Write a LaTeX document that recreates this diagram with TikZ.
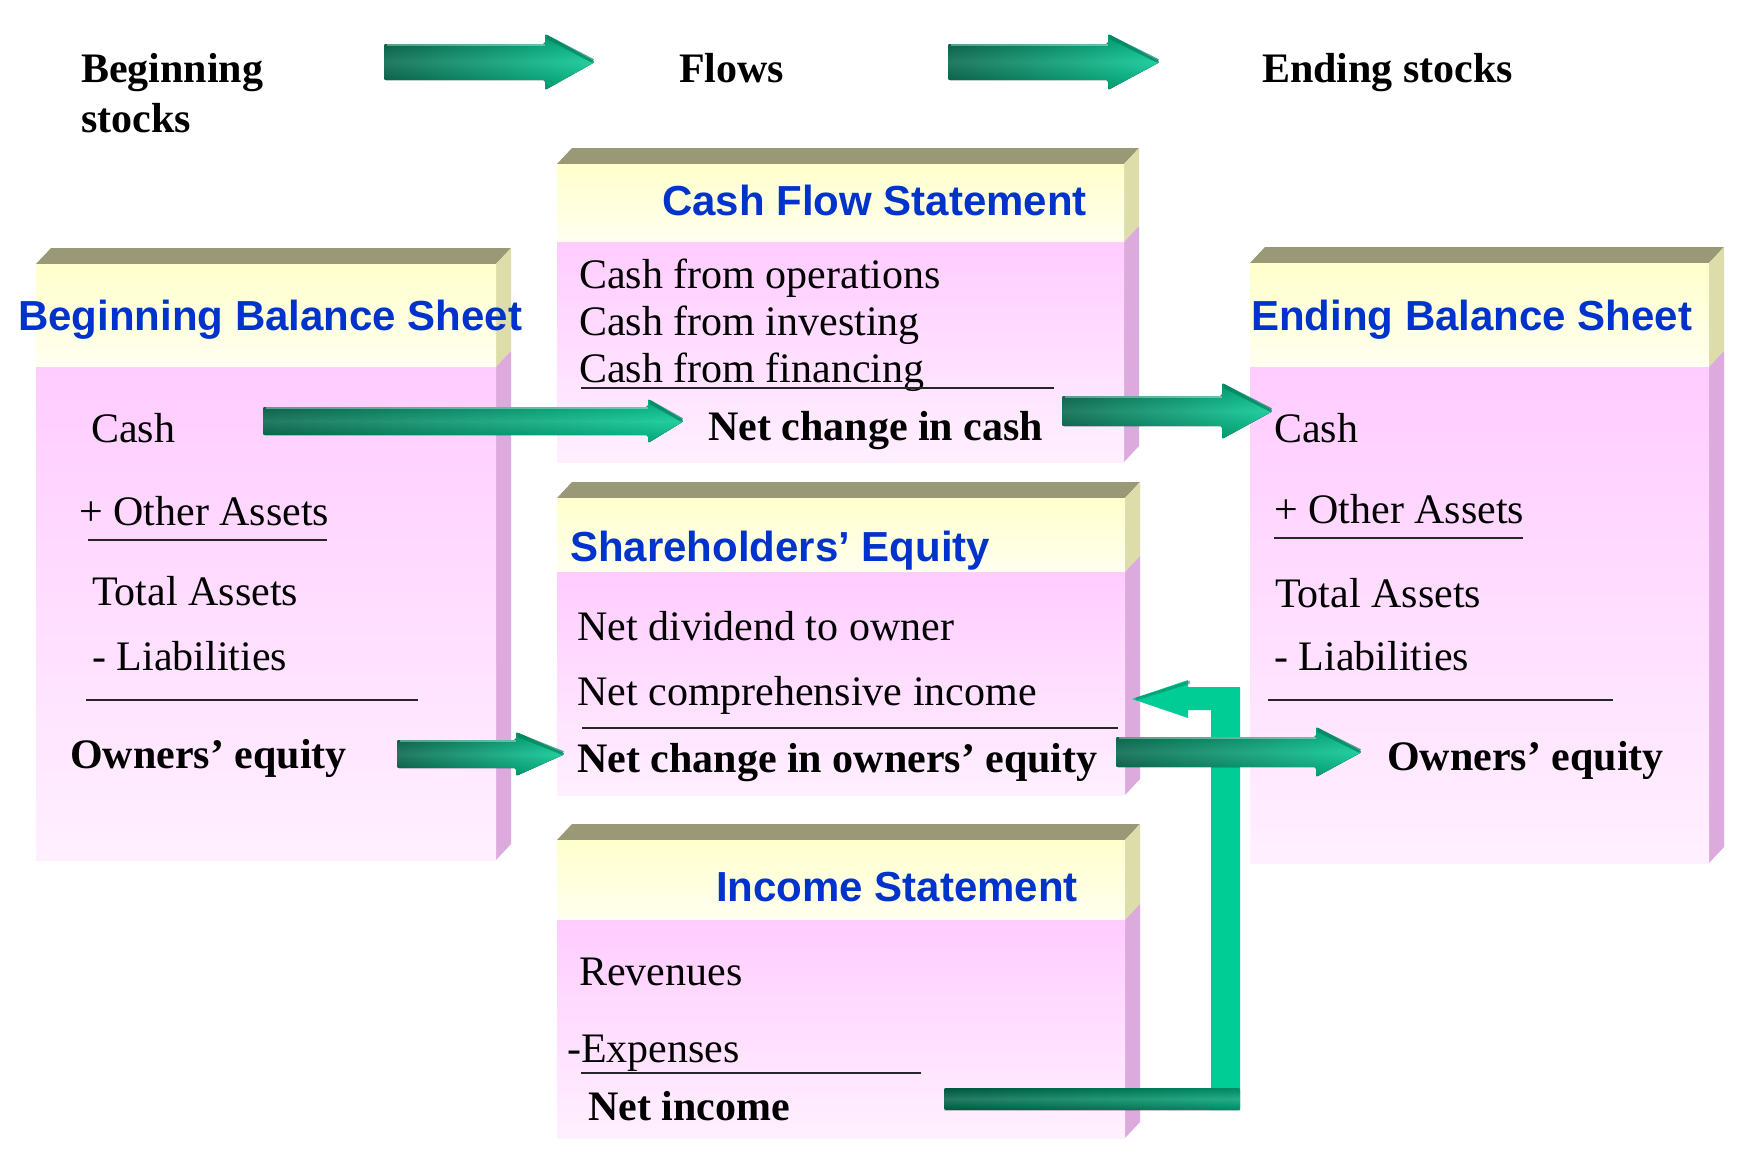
\documentclass[tikz,border=0pt]{standalone}
\usepackage{fontspec}
\setmainfont{Liberation Serif}
\newfontfamily\titlefont{Liberation Sans}
\usetikzlibrary{calc}
\definecolor{ttl}{RGB}{0,51,204}
\definecolor{topf}{RGB}{153,153,119}
\definecolor{sidey}{RGB}{221,221,170}
\definecolor{sidep}{RGB}{221,170,221}
\definecolor{hy1}{RGB}{255,255,204}
\definecolor{hy2}{RGB}{255,255,240}
\definecolor{pk1}{RGB}{255,204,255}
\definecolor{pk2}{RGB}{255,240,255}
\definecolor{gdark}{RGB}{0,100,72}
\definecolor{gmid}{RGB}{0,160,115}
\definecolor{glight}{RGB}{0,200,145}
\definecolor{gbright}{RGB}{0,204,150}
\definecolor{gedge}{RGB}{0,130,95}
\tikzset{
  txt/.style={anchor=base west, inner sep=0pt, font=\fontsize{42}{50}\selectfont},
  btxt/.style={anchor=base west, inner sep=0pt, font=\fontsize{42}{50}\selectfont\bfseries},
  ttxt/.style={anchor=base west, inner sep=0pt, font=\titlefont\fontsize{42}{50}\selectfont\bfseries, text=ttl},
  sumrule/.style={line width=2pt, black!85},
  garrowfill/.style={left color=gdark, right color=glight},
  gbevel/.style={top color=black, bottom color=black, middle color=white, opacity=0.14},
}
% #1 name, #2 xl, #3 xr, #4 front top, #5 header bottom, #6 bottom
\newcommand\statbox[6]{%
  \fill[topf] (#2,#4) -- (#2+15,#4-16) -- (#3+15,#4-16) -- (#3,#4) -- cycle;
  \fill[sidey] (#3,#4) -- (#3+15,#4-16) -- (#3+15,#5-16) -- (#3,#5) -- cycle;
  \fill[sidep] (#3,#5) -- (#3+15,#5-16) -- (#3+15,#6-16) -- (#3,#6) -- cycle;
  \shade[top color=hy1, bottom color=hy2] (#2,#4) rectangle (#3,#5);
  \shade[top color=pk1, bottom color=pk2] (#2,#5) rectangle (#3,#6);
  \coordinate (#1-nw) at (#2,#4);
  \coordinate (#1-se) at (#3,#6);
}
% #2 from, #3 tip, #4 shaft half, #5 head half, #6 head length
\newcommand\garrow[6][]{%
  \fill[garrowfill, rounded corners=2pt, #1] let \p1=(#2), \p2=(#3) in
    (\x1,\y1+#4pt) -- (\x2-#6pt,\y1+#4pt) -- (\x2-#6pt,\y1+#5pt) -- (\x2,\y1)
    -- (\x2-#6pt,\y1-#5pt) -- (\x2-#6pt,\y1-#4pt) -- (\x1,\y1-#4pt) -- cycle;
  \shade[gbevel, rounded corners=2pt] let \p1=(#2), \p2=(#3) in
    (\x1,\y1+#4pt) -- (\x2-#6pt,\y1+#4pt) -- (\x2-#6pt,\y1+#5pt) -- (\x2,\y1)
    -- (\x2-#6pt,\y1-#5pt) -- (\x2-#6pt,\y1-#4pt) -- (\x1,\y1-#4pt) -- cycle;
  \draw[gedge, line width=4pt, opacity=0.7] let \p1=(#2), \p2=(#3) in
    (\x2-#6pt+2pt,\y1+#5pt-3pt) -- (\x2-2pt,\y1+1pt);
  \draw[white, line width=1.5pt, opacity=0.35] let \p1=(#2), \p2=(#3) in
    (\x1+3pt,\y1+#4pt-1pt) -- (\x2-#6pt,\y1+#4pt-1pt);
}
\begin{document}
\begin{tikzpicture}[x=1pt,y=-1pt]
\useasboundingbox (0,0) rectangle (1740,1152);
\fill[white] (0,0) rectangle (1740,1152);

% top labels
\node[btxt] (begstocks) at (81,82) {Beginning};
\node[btxt] (begstocks2) at (81,132) {stocks};
\node[btxt] (flows) at (679,82) {Flows};
\node[btxt] (endstocks) at (1262,82) {Ending stocks};

% boxes
\statbox{bbs}{36}{496}{264}{367}{860}
\statbox{cfs}{557}{1124}{164}{242}{462}
\statbox{she}{557}{1125}{498}{572}{795}
\statbox{inc}{557}{1125}{840}{920}{1138}
\statbox{ebs}{1250}{1709}{263}{367}{863}

% Beginning Balance Sheet
\node[ttxt] (bbst) at (18,330) {Beginning Balance Sheet};
\node[txt] (bcash) at (91,442) {Cash};
\node[txt] (both) at (79,525) {+ Other Assets};
\draw[sumrule] (88,540) -- (327,540);
\node[txt] (btot) at (92,605) {Total Assets};
\node[txt] (bliab) at (92,670) {- Liabilities};
\draw[sumrule] (86,700) -- (418,700);
\node[btxt] (boe) at (70,768) {Owners’ equity};

% Cash Flow Statement
\node[ttxt] (cfst) at (662,215) {Cash Flow Statement};
\node[txt] (cops) at (579,288) {Cash from operations};
\node[txt] (cinv) at (579,335) {Cash from investing};
\node[txt] (cfin) at (579,382) {Cash from financing};
\draw[sumrule] (581,388) -- (1054,388);
\node[btxt] (ncc) at (708,440) {Net change in cash};

% Shareholders' Equity
\node[ttxt] (shet) at (570,561) {Shareholders’ Equity};
\node[txt] (ndiv) at (577,640) {Net dividend to owner};
\node[txt] (nci) at (577,705) {Net comprehensive income};
\draw[sumrule] (582,728) -- (1118,728);
\node[btxt] (ncoe) at (577,772) {Net change in owners’ equity};

% Income Statement
\node[ttxt] (inct) at (716,901) {Income Statement};
\node[txt] (rev) at (579,985) {Revenues};
\node[txt] (exp) at (567,1062) {-Expenses};
\draw[sumrule] (581,1073) -- (921,1073);
\node[btxt] (ni) at (588,1120) {Net income};

% Ending Balance Sheet
\node[ttxt] (ebst) at (1251,330) {Ending Balance Sheet};
\node[txt] (ecash) at (1274,442) {Cash};
\node[txt] (eoth) at (1274,523) {+ Other Assets};
\draw[sumrule] (1274,538) -- (1523,538);
\node[txt] (etot) at (1275,607) {Total Assets};
\node[txt] (eliab) at (1274,670) {- Liabilities};
\draw[sumrule] (1268,700) -- (1613,700);
\node[btxt] (eoe) at (1387,770) {Owners’ equity};

% arrow coordinates
\coordinate (a1s) at (384,62);  \coordinate (a1e) at (595,62);
\coordinate (a2s) at (948,62);  \coordinate (a2e) at (1160,62);
\coordinate (cs) at (263,421);  \coordinate (ce) at (684,421);
\coordinate (c2s) at (1062,411); \coordinate (c2e) at (1273,411);
\coordinate (es) at (397,754);  \coordinate (ee) at (565,754);
\coordinate (e2s) at (1116,752); \coordinate (e2e) at (1362,752);

% income loop arrow (drawn under the owners' equity arrow)
\coordinate (nis) at (944,1099);
\coordinate (nie) at (1132,699);
\fill[gbright] (1240,1110) -- (1240,687) -- (1188,687) -- (1188,680) -- (nie)
  -- (1188,718) -- (1188,710) -- (1211,710) -- (1211,1110) -- cycle;
\draw[gedge, line width=3pt, opacity=0.5] (1190,682) -- (1136,699);
\shade[left color=gdark, right color=gmid, rounded corners=2pt] (nis) ++(0,-11) rectangle (1240,1110);
\shade[gbevel] (nis) ++(0,-11) rectangle (1240,1110);

\garrow{a1s}{a1e}{18}{28}{50}
\garrow{a2s}{a2e}{18}{28}{52}
\garrow{cs}{ce}{14}{22}{36}
\garrow{c2s}{c2e}{15}{28}{51}
\garrow{es}{ee}{14}{22}{49}
\garrow{e2s}{e2e}{15}{25}{46}
\end{tikzpicture}
\end{document}
